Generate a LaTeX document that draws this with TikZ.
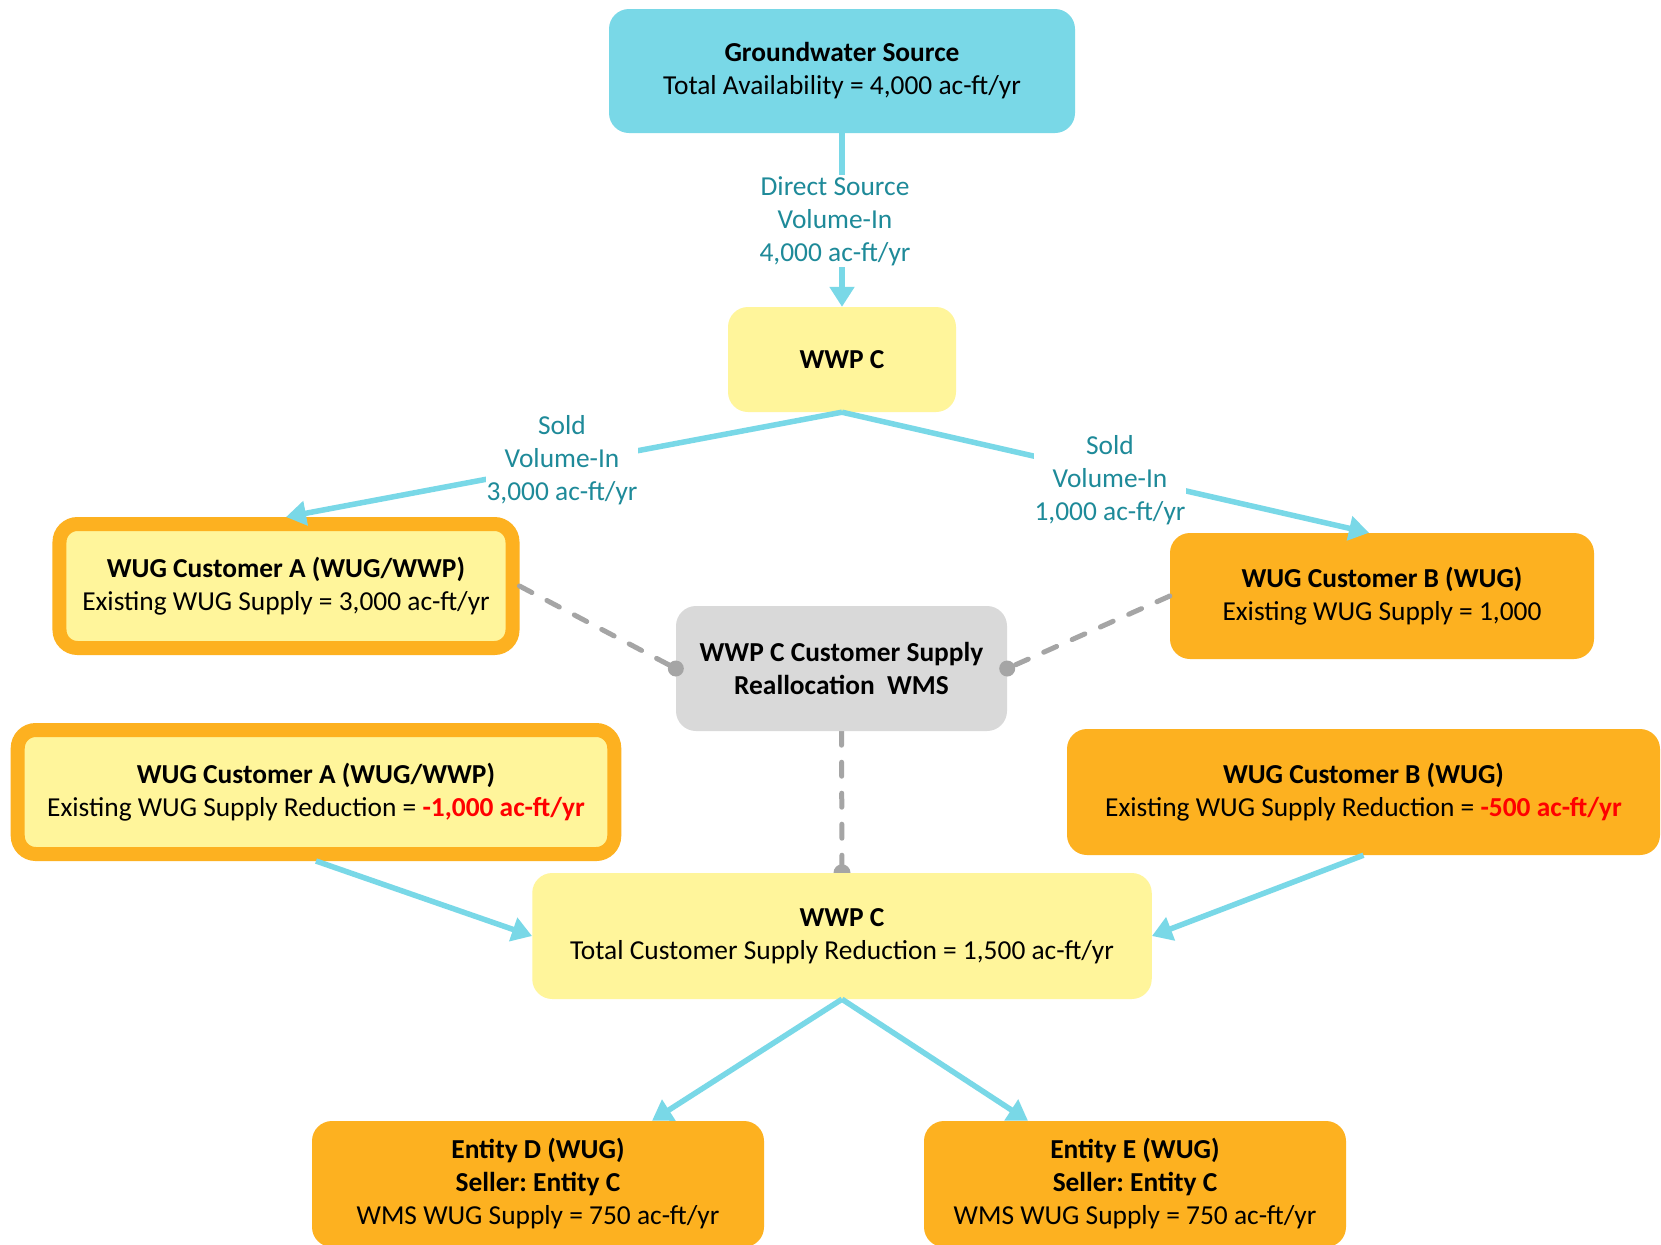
\documentclass[tikz,border=0pt]{standalone}
\usepackage{fontspec}
\setmainfont{Carlito}
\usetikzlibrary{arrows.meta,calc,backgrounds}
\frenchspacing

\definecolor{aqua}{HTML}{79D8E7}
\definecolor{flow}{HTML}{79D8E7}
\definecolor{paleyellow}{HTML}{FFF59B}
\definecolor{amber}{HTML}{FDB120}
\definecolor{boxgray}{HTML}{D9D9D9}
\definecolor{dashgray}{HTML}{A5A5A5}
\definecolor{tealtext}{HTML}{1E8A99}
\definecolor{alertred}{HTML}{FF0000}

\begin{document}
\begin{tikzpicture}[x=1bp,y=-1bp,
  every node/.style={font=\fontsize{27.4bp}{33bp}\selectfont, align=center, inner sep=0pt},
  box/.style={rounded corners=20bp},
  sourcebox/.style={box, fill=aqua},
  plantbox/.style={box, fill=paleyellow},
  custbox/.style={box, fill=amber},
  dualbox/.style={fill=paleyellow, draw=amber, line width=14bp, rounded corners=18bp},
  wmsbox/.style={box, fill=boxgray},
  flowlabel/.style={fill=white, text=tealtext, inner sep=1bp},
  flowline/.style={draw=flow, line width=5.5bp, -{Triangle[length=20bp,width=24bp]}},
  linkline/.style={draw=dashgray, line width=5bp, line cap=round, dash pattern=on 14bp off 17bp},
  linkdot/.style={fill=dashgray}
]
\clip (0,0) rectangle (1661,1244);
\begin{pgfonlayer}{background}
  \fill[white] (0,0) rectangle (1661,1244);
\end{pgfonlayer}

% boxes
\node[sourcebox, minimum width=466bp, minimum height=124bp] (gw) at (842,71)
  {\textbf{Groundwater Source}\\Total Availability = 4,000 ac-ft/yr};
\node[plantbox, minimum width=228bp, minimum height=105bp] (w1) at (842,359.5)
  {\textbf{WWP C}};
\node[dualbox, minimum width=453bp, minimum height=124bp] (a1) at (286,586)
  {\textbf{WUG Customer A (WUG/WWP)}\\Existing WUG Supply = 3,000 ac-ft/yr};
\node[custbox, minimum width=424bp, minimum height=126bp] (b1) at (1382,596)
  {\textbf{WUG Customer B (WUG)}\\Existing WUG Supply = 1,000};
\node[wmsbox, minimum width=331bp, minimum height=125bp] (wms) at (841.5,668.5)
  {\textbf{WWP C Customer Supply}\\\textbf{Reallocation\ \ WMS}};
\node[dualbox, minimum width=596.5bp, minimum height=124bp] (a2) at (316,792)
  {\textbf{WUG Customer A (WUG/WWP)}\\Existing WUG Supply Reduction = \textcolor{alertred}{\textbf{-1,000 ac-ft/yr}}};
\node[custbox, minimum width=593bp, minimum height=126bp] (b2) at (1363.5,792)
  {\textbf{WUG Customer B (WUG)}\\Existing WUG Supply Reduction = \textcolor{alertred}{\textbf{-500 ac-ft/yr}}};
\node[plantbox, minimum width=619.5bp, minimum height=126bp] (w2) at (842,936)
  {\textbf{WWP C}\\Total Customer Supply Reduction = 1,500 ac-ft/yr};
\node[custbox, minimum width=452bp, minimum height=126bp] (ed) at (538,1184)
  {\textbf{Entity D (WUG)}\\\textbf{Seller: Entity C}\\WMS WUG Supply = 750 ac-ft/yr};
\node[custbox, minimum width=422bp, minimum height=126bp] (ee) at (1135,1184)
  {\textbf{Entity E (WUG)}\\\textbf{Seller: Entity C}\\WMS WUG Supply = 750 ac-ft/yr};

% water flows
\draw[flowline] (gw.south) -- (w1.north);
\draw[flowline] (w1.south) -- (a1.north);
\draw[flowline] (w1.south) -- ($(b1.north)+(-13,0)$);
\draw[flowline] (a2.south) -- (w2.west);
\draw[flowline] (b2.south) -- (w2.east);
\draw[flowline] (w2.south) -- ($(ed.north)+(114,0)$);
\draw[flowline] (w2.south) -- ($(ee.north)+(-107,0)$);

% flow labels
\node[flowlabel] (ldirect) at (835,221) {Direct Source\\Volume-In\\4,000 ac-ft/yr};
\node[flowlabel] (lsolda) at (562,460) {Sold\\Volume-In\\3,000 ac-ft/yr};
\node[flowlabel] (lsoldb) at (1110,480) {Sold\\Volume-In\\1,000 ac-ft/yr};

% strategy links
\draw[linkline] (a1.east) -- (wms.west);
\draw[linkline] (b1.west) -- (wms.east);
\fill[linkdot] (wms.west) circle[radius=8bp];
\fill[linkdot] (wms.east) circle[radius=8bp];
\begin{pgfonlayer}{background}
  \draw[linkline] (wms.south) -- (w2.north);
  \fill[linkdot] (w2.north) circle[radius=8.5bp];
\end{pgfonlayer}
\end{tikzpicture}
\end{document}
